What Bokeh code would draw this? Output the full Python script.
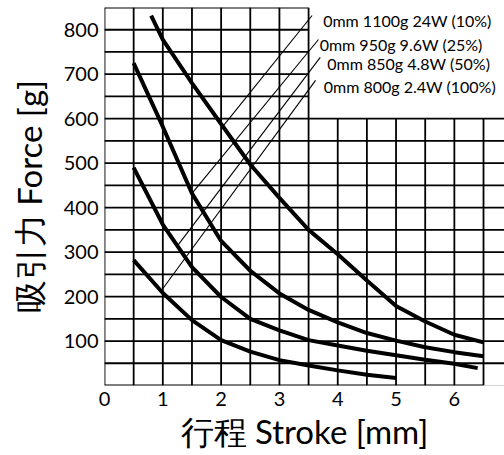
import numpy as np
from bokeh.plotting import figure
from bokeh.models import Range1d, FixedTicker
from bokeh.embed import file_html
from bokeh.resources import INLINE
from bokeh.core.properties import value

# ---- data ----
stroke_10 = [0.8, 1.0, 1.5, 2.0, 2.5, 3.0, 3.5, 4.0, 4.5, 5.0, 5.5, 6.0, 6.5]
force_10 = [832, 778, 680, 588, 497, 422, 350, 295, 236, 179, 144, 114, 97]

stroke_25 = [0.5, 1.0, 1.5, 2.0, 2.5, 3.0, 3.5, 4.0, 4.5, 5.0, 5.5, 6.0, 6.5]
force_25 = [725, 582, 432, 325, 258, 207, 170, 142, 118, 101, 86, 75, 66]

stroke_50 = [0.5, 1.0, 1.5, 2.0, 2.5, 3.0, 3.5, 4.0, 4.5, 5.0, 5.5, 6.0, 6.4]
force_50 = [490, 362, 266, 199, 150, 124, 102, 90, 78, 68, 58, 49, 39]

stroke_100 = [0.5, 1.0, 1.5, 2.0, 2.5, 3.0, 3.5, 4.0, 4.5, 5.0]
force_100 = [282, 208, 147, 102, 76, 57, 45, 34, 24, 17]

labels = ["0mm 1100g 24W (10%)", "0mm 950g 9.6W (25%)",
          "0mm 850g 4.8W (50%)", "0mm 800g 2.4W (100%)"]
leader_start_stroke = [2.03, 1.5, 1.25, 0.97]
leader_end_stroke = [3.56, 3.67, 3.70, 3.62]
leader_end_force = [832, 778, 738, 686]
label_stroke = [3.75, 3.69, 3.82, 3.76]
label_force = [820, 766, 725, 672]

x_ticks = [0, 1, 2, 3, 4, 5, 6]
y_ticks = [100, 200, 300, 400, 500, 600, 700, 800]
x_title = "行程 Stroke [mm]"
y_title = "吸引力 Force [g]"

X_MAX_GRID = 6.5
X_END = 6.86
Y_END = 850
BOX_X = 3.5
BOX_Y = 600

FONT = "Lato"

p = figure(width=504, height=455, output_backend="svg", toolbar_location=None,
           x_range=Range1d(0, X_END), y_range=Range1d(0, Y_END),
           min_border_left=104, min_border_right=0, min_border_top=7,
           min_border_bottom=70, background_fill_color="white",
           border_fill_color="white")
p.outline_line_color = None
p.xgrid.visible = False
p.ygrid.visible = False

# ---- grid ----
vx = np.arange(0, X_MAX_GRID + 0.01, 0.5)
vy1 = np.where(vx <= BOX_X, Y_END, BOX_Y)
p.segment(x0=vx, y0=np.zeros_like(vx), x1=vx, y1=vy1, line_color="black", line_width=1.8)
hy = np.arange(0, Y_END + 1, 50)
hx1 = np.where(hy <= BOX_Y, X_END, BOX_X)
hx1 = np.where(hy == 0, X_MAX_GRID, hx1)
p.segment(x0=np.zeros_like(hy), y0=hy, x1=hx1, y1=hy, line_color="black", line_width=1.8)
p.segment(x0=[X_MAX_GRID], y0=[0], x1=[X_END], y1=[0], line_color="#aaaaaa", line_width=1)

# ---- leader lines ----
curves = [(stroke_10, force_10), (stroke_25, force_25), (stroke_50, force_50), (stroke_100, force_100)]
lead_y0 = [float(np.interp(s, c[0], c[1])) for s, c in zip(leader_start_stroke, curves)]
p.segment(x0=leader_start_stroke, y0=lead_y0, x1=leader_end_stroke, y1=leader_end_force,
          line_color="black", line_width=1.1)

# ---- curves ----
for sx, fy in curves:
    p.line(sx, fy, line_color="black", line_width=4)

# ---- labels ----
p.text(x=label_stroke, y=label_force, text=labels, text_font=value(FONT),
       text_font_size="16px", text_baseline="middle", text_align="left", text_color="black")

# ---- axes ----
for ax in (p.xaxis[0], p.yaxis[0]):
    ax.axis_line_color = None
    ax.major_tick_line_color = None
    ax.minor_tick_line_color = None
    ax.major_label_text_font = FONT
    ax.major_label_text_font_size = "20px"
    ax.major_label_text_color = "black"
    ax.axis_label_text_font = FONT
    ax.axis_label_text_font_size = "33px"
    ax.axis_label_text_font_style = "normal"
    ax.axis_label_text_color = "black"

p.xaxis.ticker = FixedTicker(ticks=x_ticks)
p.yaxis.ticker = FixedTicker(ticks=y_ticks)
p.xaxis.axis_label = x_title
p.yaxis.axis_label = y_title
p.xaxis.major_label_standoff = 0
p.xaxis.axis_label_standoff = 2
p.yaxis.major_label_standoff = 0
p.yaxis.axis_label_standoff = 12

open("out.html", "w").write(file_html(p, INLINE))
